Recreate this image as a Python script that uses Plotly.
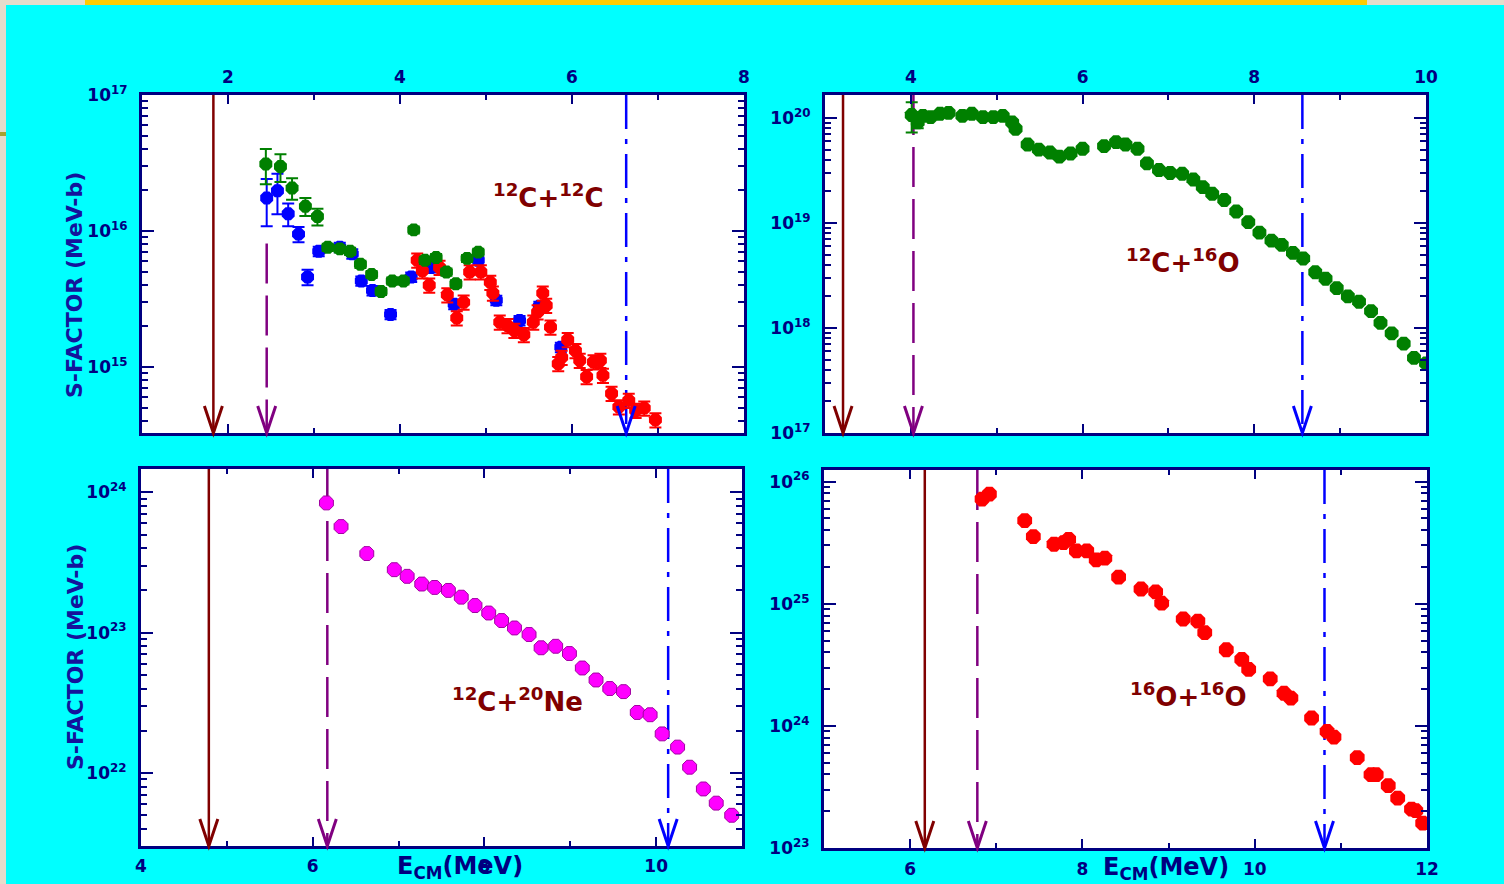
import plotly.graph_objects as go

# ---------------- data: S-factor vs centre-of-mass energy ----------------
# 12C+12C (three data sets)
cc_green_E = [2.44, 2.61, 2.745, 2.90, 3.04, 3.16, 3.30, 3.42, 3.54, 3.67,
              3.78, 3.91, 4.04, 4.16, 4.29, 4.42, 4.54, 4.65, 4.78, 4.91]
cc_green_S = [3.11e16, 2.98e16, 2.07e16, 1.52e16, 1.28e16, 7.6e15, 7.4e15, 7.1e15, 5.7e15, 4.8e15,
              3.6e15, 4.3e15, 4.3e15, 1.02e16, 6.1e15, 6.4e15, 5.0e15, 4.1e15, 6.3e15, 7.0e15]
cc_green_rel_err = [0.29, 0.23, 0.18, 0.15, 0.14, 0.06, 0.06, 0.06, 0.06, 0.06,
                    0.06, 0.06, 0.06, 0.06, 0.06, 0.06, 0.06, 0.06, 0.06, 0.06]

cc_blue_E = [2.45, 2.575, 2.70, 2.82, 2.925, 3.055, 3.30, 3.445, 3.55, 3.68,
             3.89, 4.13, 4.36, 4.63, 4.91, 5.12, 5.39, 5.62, 5.87]
cc_blue_S = [1.75e16, 1.98e16, 1.34e16, 9.5e15, 4.6e15, 7.1e15, 7.6e15, 6.8e15, 4.3e15, 3.66e15,
             2.44e15, 4.6e15, 5.4e15, 2.9e15, 6.1e15, 3.1e15, 2.2e15, 2.8e15, 1.4e15]
cc_blue_rel_err = [0.38, 0.33, 0.19, 0.13, 0.13, 0.08, 0.08, 0.08, 0.08, 0.08,
                   0.08, 0.08, 0.08, 0.08, 0.08, 0.08, 0.08, 0.08, 0.08]

cc_red_E = [4.20, 4.26, 4.34, 4.46, 4.55, 4.66, 4.74, 4.81, 4.94, 5.05,
            5.08, 5.16, 5.25, 5.33, 5.44, 5.55, 5.60, 5.66, 5.70, 5.75,
            5.84, 5.88, 5.95, 6.04, 6.09, 6.17, 6.25, 6.33, 6.36, 6.46,
            6.545, 6.66, 6.74, 6.84, 6.97]
cc_red_S = [6.1e15, 5.1e15, 4.0e15, 5.4e15, 3.4e15, 2.3e15, 3.0e15, 5.0e15, 5.0e15, 4.2e15,
            3.5e15, 2.14e15, 2.02e15, 1.86e15, 1.73e15, 2.14e15, 2.54e15, 3.5e15, 2.84e15, 1.97e15,
            1.06e15, 1.18e15, 1.59e15, 1.32e15, 1.12e15, 8.5e14, 1.09e15, 1.12e15, 8.7e14, 6.4e14,
            5.1e14, 5.7e14, 4.8e14, 5.0e14, 4.1e14]
cc_red_rel_err = [0.12] * len(cc_red_S)

# 12C+16O
co_E = [4.01, 4.08, 4.14, 4.23, 4.34, 4.44, 4.60, 4.71, 4.84, 4.96,
        5.07, 5.18, 5.22, 5.36, 5.49, 5.62, 5.73, 5.86, 6.00, 6.25,
        6.39, 6.50, 6.64, 6.75, 6.89, 7.02, 7.16, 7.29, 7.40, 7.51,
        7.65, 7.79, 7.93, 8.06, 8.20, 8.32, 8.45, 8.57, 8.71, 8.83,
        8.96, 9.09, 9.22, 9.36, 9.47, 9.60, 9.74, 9.86, 10.0]
co_S = [1.07e20, 9.1e19, 1.05e20, 1.02e20, 1.10e20, 1.12e20, 1.05e20, 1.10e20, 1.02e20, 1.02e20,
        1.05e20, 9.1e19, 7.9e19, 5.6e19, 5.0e19, 4.7e19, 4.3e19, 4.6e19, 5.1e19, 5.4e19,
        5.9e19, 5.6e19, 5.1e19, 3.7e19, 3.2e19, 3.0e19, 2.95e19, 2.6e19, 2.2e19, 1.9e19,
        1.66e19, 1.29e19, 1.02e19, 8.1e18, 6.8e18, 6.2e18, 5.2e18, 4.6e18, 3.4e18, 2.95e18,
        2.4e18, 2.0e18, 1.78e18, 1.45e18, 1.12e18, 8.9e17, 7.1e17, 5.2e17, 4.6e17]
co_rel_err = [0.32, 0.12, 0.08] + [0.0] * (len(co_S) - 3)

# 12C+20Ne
cne_E = [6.16, 6.33, 6.63, 6.95, 7.10, 7.27, 7.42, 7.58, 7.73, 7.89,
         8.05, 8.20, 8.35, 8.52, 8.66, 8.83, 8.99, 9.14, 9.30, 9.46,
         9.62, 9.78, 9.93, 10.07, 10.25, 10.39, 10.55, 10.70, 10.88]
cne_S = [8.4e23, 5.7e23, 3.66e23, 2.81e23, 2.52e23, 2.22e23, 2.10e23, 2.00e23, 1.79e23, 1.56e23,
         1.38e23, 1.22e23, 1.08e23, 9.7e22, 7.8e22, 8.0e22, 7.1e22, 5.6e22, 4.6e22, 4.0e22,
         3.8e22, 2.7e22, 2.6e22, 1.9e22, 1.53e22, 1.10e22, 7.7e21, 6.1e21, 5.0e21]

# 16O+16O
oo_E = [6.835, 6.92, 7.33, 7.43, 7.67, 7.78, 7.84, 7.93, 8.05, 8.16,
        8.26, 8.42, 8.68, 8.85, 8.92, 9.17, 9.34, 9.42, 9.67, 9.85,
        9.93, 10.18, 10.34, 10.42, 10.66, 10.84, 10.92, 11.19, 11.35, 11.41,
        11.55, 11.66, 11.82, 11.87, 11.95]
oo_S = [7.2e25, 7.9e25, 4.8e25, 3.55e25, 3.07e25, 3.17e25, 3.37e25, 2.71e25, 2.71e25, 2.29e25,
        2.36e25, 1.65e25, 1.32e25, 1.25e25, 1.01e25, 7.5e24, 7.2e24, 5.8e24, 4.2e24, 3.5e24,
        2.9e24, 2.43e24, 1.85e24, 1.69e24, 1.16e24, 9.0e23, 8.1e23, 5.5e23, 3.98e23, 3.98e23,
        3.24e23, 2.56e23, 2.08e23, 2.02e23, 1.60e23]

# characteristic energies marked by arrows (solid, dashed, dash-dot)
arrow_E = {
    "cc": [1.83, 2.45, 6.63],
    "co": [3.21, 4.03, 8.56],
    "cne": [4.79, 6.17, 10.14],
    "oo": [6.17, 6.78, 10.81],
}
# where the dashed (second) arrow line begins in the 12C+12C panel
cc_dashed_start_S = 8.1e15

reaction_labels = {
    "cc": "<sup>12</sup>C+<sup>12</sup>C",
    "co": "<sup>12</sup>C+<sup>16</sup>O",
    "cne": "<sup>12</sup>C+<sup>20</sup>Ne",
    "oo": "<sup>16</sup>O+<sup>16</sup>O",
}

# ---------------- styling ----------------
W, H = 1504, 884
NAVY = "#000080"
TITLE_BLUE = "#14149c"
DARK_RED = "#800000"
FONT = "DejaVu Sans"
ARROW_COLORS = ["#800000", "#800080", "#0000ff"]
ARROW_DASH = ["solid", "40px,12px", "34px,10px,5px,10px"]

# panel boxes in pixels: (left, right, top, bottom)
boxes = {
    "cc": (142, 744, 95, 433),
    "co": (825, 1426, 95, 433),
    "cne": (141, 742, 469, 846),
    "oo": (824, 1427, 470, 848),
}
xranges = {"cc": [1, 8], "co": [3, 10], "cne": [4, 11], "oo": [5, 12]}
yranges = {"cc": [14.516, 17], "co": [17, 20.22], "cne": [21.48, 24.166], "oo": [23, 26.095]}
xticks = {"cc": [2, 4, 6, 8], "co": [4, 6, 8, 10], "cne": [4, 6, 8, 10], "oo": [6, 8, 10, 12]}
xminor = {"cc": [3, 5, 7], "co": [5, 7, 9], "cne": [5, 7, 9], "oo": [7, 9, 11]}
ydecades = {"cc": [15, 16, 17], "co": [17, 18, 19, 20], "cne": [22, 23, 24], "oo": [23, 24, 25, 26]}
axis_ids = {"cc": ("x", "y", ""), "co": ("x2", "y2", "2"), "cne": ("x3", "y3", "3"), "oo": ("x4", "y4", "4")}
xside = {"cc": "top", "co": "top", "cne": "bottom", "oo": "bottom"}
xlabel_gap = {"cc": 2, "co": 2, "cne": 3, "oo": 4}


def px_x(p):
    return p / W


def px_y(p):
    return 1 - p / H


fig = go.Figure()
layout = dict(
    width=W, height=H, autosize=False,
    margin=dict(l=0, r=0, t=0, b=0, pad=0, autoexpand=False),
    paper_bgcolor="#00ffff",
    plot_bgcolor="#ffffff",
    showlegend=False,
)

tickfont = dict(family=FONT, size=17, color=NAVY, weight="bold")

for key, (l, r, t, b) in boxes.items():
    xa, ya, suf = axis_ids[key]
    y0, y1 = yranges[key]
    minor_y = [m * 10.0 ** k for k in range(int(y0) - 1, int(y1) + 1) for m in range(2, 10)]
    layout["xaxis" + suf] = dict(
        domain=[px_x(l), px_x(r)], range=xranges[key], anchor=ya, automargin=False,
        side=xside[key], tickvals=xticks[key], ticks="inside", ticklen=9, tickwidth=2,
        tickcolor=NAVY, mirror="allticks", showline=True, linewidth=3, linecolor=NAVY,
        showgrid=False, zeroline=False, tickfont=tickfont, ticklabelstandoff=xlabel_gap[key],
        minor=dict(tickvals=xminor[key], ticks="inside", ticklen=5, tickwidth=2, tickcolor=NAVY),
    )
    layout["yaxis" + suf] = dict(
        domain=[px_y(b), px_y(t)], range=[y0, y1], type="log", anchor=xa, automargin=False,
        tickvals=[10.0 ** d for d in ydecades[key]],
        ticktext=[f"10<sup>{d}</sup>" for d in ydecades[key]],
        ticks="inside", ticklen=12, tickwidth=2, tickcolor=NAVY,
        mirror="allticks", showline=True, linewidth=3, linecolor=NAVY,
        showgrid=False, zeroline=False, tickfont=tickfont, ticklabelstandoff=8,
        minor=dict(tickvals=minor_y, ticks="inside", ticklen=6, tickwidth=1.5, tickcolor=NAVY),
    )

shapes = []

# slide decoration around the chart
BEIGE = "#e6dccb"
shapes += [
    dict(type="rect", xref="paper", yref="paper", x0=0, x1=px_x(6), y0=0, y1=1,
         fillcolor=BEIGE, line=dict(width=0), layer="below"),
    dict(type="rect", xref="paper", yref="paper", x0=0, x1=1, y0=px_y(5), y1=1,
         fillcolor=BEIGE, line=dict(width=0), layer="below"),
    dict(type="rect", xref="paper", yref="paper", x0=px_x(85), x1=px_x(1367), y0=px_y(5), y1=1,
         fillcolor="#ffcc00", line=dict(width=0), layer="below"),
    dict(type="rect", xref="paper", yref="paper", x0=0, x1=px_x(6), y0=px_y(136), y1=px_y(132),
         fillcolor="#a8a030", line=dict(width=0), layer="below"),
]

# arrows: vertical line trace + open arrowhead at the bottom axis
for key in boxes:
    xa, ya, suf = axis_ids[key]
    y0, y1 = yranges[key]
    for i, e in enumerate(arrow_E[key]):
        top = 10.0 ** y1
        if key == "cc" and i == 1:
            top = cc_dashed_start_S
        fig.add_trace(go.Scatter(
            x=[e, e], y=[top, 10.0 ** y0], mode="lines", xaxis=xa, yaxis=ya,
            line=dict(color=ARROW_COLORS[i], width=2.5, dash=ARROW_DASH[i]),
            hoverinfo="skip", cliponaxis=False,
        ))
        shapes.append(dict(
            type="path", xref=xa, yref=f"{ya} domain", xsizemode="pixel", ysizemode="pixel",
            xanchor=e, yanchor=0, path="M -9,27 L -7,21 L 0,0 L 7,21 L 9,27",
            line=dict(color=ARROW_COLORS[i], width=3),
        ))


def err(values, rel):
    return dict(type="data", array=[v * f for v, f in zip(values, rel)], symmetric=True,
                thickness=2, width=6)


# 12C+12C
fig.add_trace(go.Scatter(
    x=cc_blue_E, y=cc_blue_S, mode="markers", xaxis="x", yaxis="y",
    marker=dict(symbol="octagon", size=14, color="#0000ff", line=dict(width=0)),
    error_y=dict(err(cc_blue_S, cc_blue_rel_err), color="#0000ff"),
))
fig.add_trace(go.Scatter(
    x=cc_red_E, y=cc_red_S, mode="markers", xaxis="x", yaxis="y",
    marker=dict(symbol="octagon", size=14, color="#ff0000", line=dict(width=0)),
    error_y=dict(err(cc_red_S, cc_red_rel_err), color="#ff0000"),
))
fig.add_trace(go.Scatter(
    x=cc_green_E, y=cc_green_S, mode="markers", xaxis="x", yaxis="y",
    marker=dict(symbol="octagon", size=14, color="#008000", line=dict(width=0)),
    error_y=dict(err(cc_green_S, cc_green_rel_err), color="#008000"),
))

# 12C+16O
fig.add_trace(go.Scatter(
    x=co_E, y=co_S, mode="markers", xaxis="x2", yaxis="y2",
    marker=dict(symbol="octagon", size=15, color="#008000", line=dict(width=0)),
    error_y=dict(err(co_S, co_rel_err), color="#008000"),
))

# 12C+20Ne
fig.add_trace(go.Scatter(
    x=cne_E, y=cne_S, mode="markers", xaxis="x3", yaxis="y3",
    marker=dict(symbol="octagon", size=15, color="#ff00ff", line=dict(width=1, color="#a000a0")),
))

# 16O+16O
fig.add_trace(go.Scatter(
    x=oo_E, y=oo_S, mode="markers", xaxis="x4", yaxis="y4",
    marker=dict(symbol="octagon", size=16, color="#ff0000", line=dict(width=0)),
))

annotations = []
label_pos = {"cc": (548, 196), "co": (1183, 261), "cne": (517, 700), "oo": (1188, 695)}
for key, (lx, ly) in label_pos.items():
    annotations.append(dict(
        x=px_x(lx), y=px_y(ly), xref="paper", yref="paper", text=reaction_labels[key],
        showarrow=False, xanchor="center", yanchor="middle",
        font=dict(family=FONT, size=26, color=DARK_RED, weight="bold"),
    ))

for cy in (285, 657):
    annotations.append(dict(
        x=px_x(75), y=px_y(cy), xref="paper", yref="paper", text="S-FACTOR (MeV-b)",
        showarrow=False, textangle=-90, xanchor="center", yanchor="middle",
        font=dict(family=FONT, size=22, color=TITLE_BLUE, weight="bold"),
    ))

for cx, cy in ((460, 867), (1166, 868)):
    annotations.append(dict(
        x=px_x(cx), y=px_y(cy), xref="paper", yref="paper", text="E<sub>CM</sub>(MeV)",
        showarrow=False, xanchor="center", yanchor="middle",
        font=dict(family=FONT, size=24, color=NAVY, weight="bold"),
    ))

layout["shapes"] = shapes
layout["annotations"] = annotations
fig.update_layout(**layout)

fig.write_html("out.html")
